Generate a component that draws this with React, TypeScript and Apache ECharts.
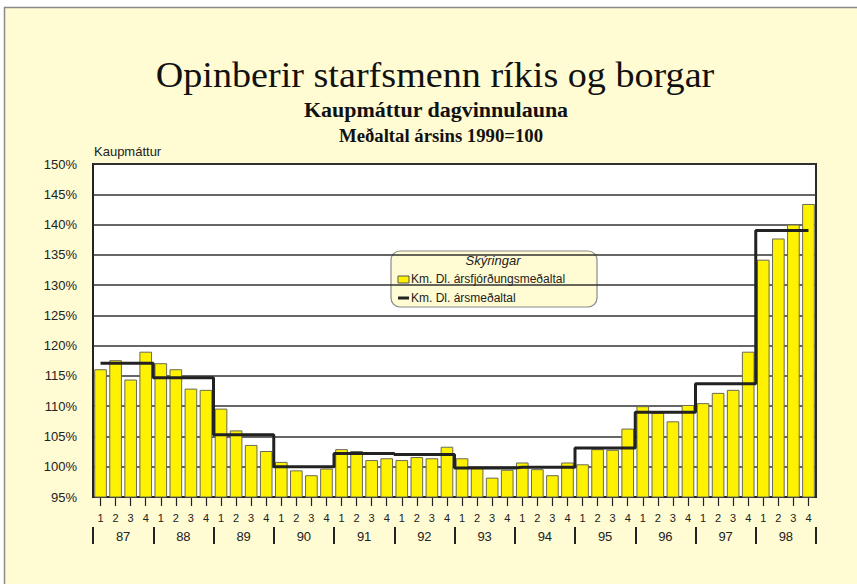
import React, { useEffect, useRef } from "react";
import * as echarts from "echarts";

const years = ["87", "88", "89", "90", "91", "92", "93", "94", "95", "96", "97", "98"];
const quarterLabels = ["1", "2", "3", "4"];
const quarterlyValues = [
  116.1, 117.6, 114.4, 119.0,
  117.1, 116.1, 112.9, 112.7,
  109.6, 106.0, 103.6, 102.6,
  100.8, 99.4, 98.6, 99.7,
  102.9, 102.6, 101.1, 101.4,
  101.1, 101.6, 101.4, 103.3,
  101.4, 100.1, 98.2, 99.5,
  100.7, 99.6, 98.6, 100.7,
  100.4, 102.9, 102.8, 106.3,
  110.0, 108.9, 107.5, 110.2,
  110.5, 112.2, 112.7, 119.0,
  134.2, 137.7, 140.0, 143.4,
];
const annualAverages = [117.1, 114.7, 105.3, 100.0, 102.2, 102.0, 99.8, 99.9, 103.1, 109.0, 113.7, 139.0];

const CREAM = "#FFFBD3";
const SANS = "'Liberation Sans', Arial, sans-serif";
const SERIF = "'Liberation Serif', 'Times New Roman', serif";

export default function App() {
  const ref = useRef<HTMLDivElement>(null);
  useEffect(() => {
    if (!ref.current) return;
    const chart = echarts.init(ref.current, undefined, { renderer: "svg" });
    const categories: string[] = [];
    const stepData: number[] = [];
    years.forEach((y, yi) => {
      quarterLabels.forEach((q) => {
        categories.push(y + "-" + q);
        stepData.push(annualAverages[yi]);
      });
    });
    chart.setOption({
      animation: false,
      backgroundColor: CREAM,
      textStyle: { fontFamily: SANS },
      graphic: [
        { type: "rect", left: 0, top: 0, shape: { width: 857, height: 7 }, style: { fill: "#ffffff" } },
        { type: "rect", left: 0, top: 0, shape: { width: 4, height: 584 }, style: { fill: "#ffffff" } },
        { type: "line", shape: { x1: 4, y1: 7.5, x2: 857, y2: 7.5 }, style: { stroke: "#8a8a8a", lineWidth: 1.5 } },
        { type: "line", shape: { x1: 4.5, y1: 7, x2: 4.5, y2: 584 }, style: { stroke: "#8a8a8a", lineWidth: 1.5 } },
        {
          type: "text", x: 435, y: 75, scaleX: 1.06,
          style: { text: "Opinberir starfsmenn ríkis og borgar", font: `36px ${SERIF}`, fill: "#111", align: "center", verticalAlign: "middle" },
        },
        {
          type: "text", x: 436, y: 110, scaleX: 1.1,
          style: { text: "Kaupmáttur dagvinnulauna", font: `bold 20px ${SERIF}`, fill: "#111", align: "center", verticalAlign: "middle" },
        },
        {
          type: "text", x: 441, y: 136, scaleX: 1.04,
          style: { text: "Meðaltal ársins 1990=100", font: `bold 18px ${SERIF}`, fill: "#111", align: "center", verticalAlign: "middle" },
        },
        {
          type: "text", x: 94, y: 151,
          style: { text: "Kaupmáttur", font: `13px ${SANS}`, fill: "#222", align: "left", verticalAlign: "middle" },
        },
        {
          type: "group", z: 100,
          children: [
            { type: "rect", shape: { x: 391, y: 251, width: 206, height: 56, r: 9 }, style: { fill: CREAM, stroke: "#8a8a8a", lineWidth: 1.2 } },
            { type: "text", x: 493, y: 260, style: { text: "Skýringar", font: `italic 13px ${SANS}`, fill: "#222", align: "center", verticalAlign: "middle" } },
            { type: "rect", shape: { x: 398, y: 276, width: 11, height: 7 }, style: { fill: "#FFF200", stroke: "#555", lineWidth: 1 } },
            { type: "text", x: 411, y: 279, style: { text: "Km. Dl. ársfjórðungsmeðaltal", font: `12px ${SANS}`, fill: "#222", align: "left", verticalAlign: "middle" } },
            { type: "line", shape: { x1: 398, y1: 298, x2: 409, y2: 298 }, style: { stroke: "#222", lineWidth: 3 } },
            { type: "text", x: 411, y: 298, style: { text: "Km. Dl. ársmeðaltal", font: `12px ${SANS}`, fill: "#222", align: "left", verticalAlign: "middle" } },
          ],
        },
      ],
      grid: {
        left: 93, right: 41, top: 164, bottom: 87,
        show: true, backgroundColor: "#ffffff", borderColor: "#2a2a2a", borderWidth: 2,
        containLabel: false,
      },
      xAxis: [
        {
          type: "category",
          data: categories,
          position: "bottom",
          axisLine: { show: true, lineStyle: { color: "#222", width: 1.5 } },
          axisTick: { show: true, alignWithLabel: true, length: 9, interval: 0, lineStyle: { color: "#222", width: 1.2 } },
          axisLabel: {
            interval: 0, fontSize: 11, color: "#222", margin: 15,
            formatter: (v: string) => v.split("-")[1],
          },
          splitLine: { show: false },
        },
        {
          type: "category",
          data: years,
          position: "bottom",
          offset: 30,
          axisLine: { show: false },
          axisTick: { show: true, length: 17, interval: 0, lineStyle: { color: "#222", width: 2 } },
          axisLabel: { interval: 0, fontSize: 13, color: "#222", margin: 3 },
          splitLine: { show: false },
        },
      ],
      yAxis: {
        type: "value",
        min: 95, max: 150, interval: 5,
        axisLine: { show: true, lineStyle: { color: "#222", width: 1.5 } },
        axisTick: { show: false },
        axisLabel: { formatter: "{value}%", fontSize: 13, color: "#222", margin: 16 },
        splitLine: { show: true, lineStyle: { color: "#333", width: 1.5 } },
      },
      series: [
        {
          name: "Km. Dl. ársfjórðungsmeðaltal",
          type: "bar",
          xAxisIndex: 0,
          data: quarterlyValues,
          barCategoryGap: "16%",
          itemStyle: { color: "#FFF200", borderColor: "#6a6a55", borderWidth: 1 },
        },
        {
          name: "Km. Dl. ársmeðaltal",
          type: "line",
          xAxisIndex: 0,
          data: stepData,
          step: "middle",
          symbol: "none",
          lineStyle: { color: "#222", width: 3 },
          z: 5,
        },
      ],
    });
    return () => chart.dispose();
  }, []);
  return <div ref={ref} style={{ position: "fixed", left: 0, top: 0, width: 857, height: 584 }} />;
}
